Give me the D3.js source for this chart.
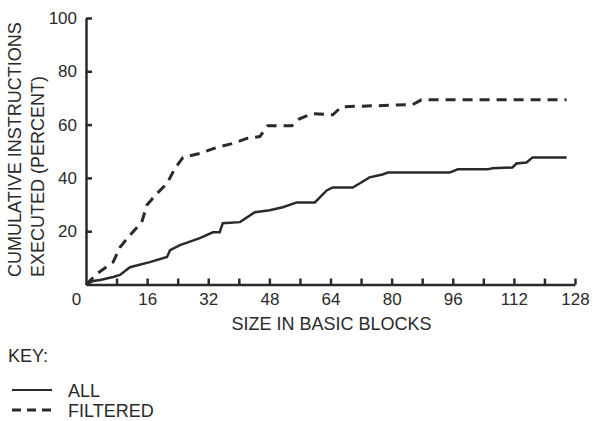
<!DOCTYPE html>
<html lang="en">
<head>
  <meta charset="utf-8">
  <title>Cumulative instructions executed</title>
  <style>
    body { margin: 0; background: #fff; }
    text { font-family: "Liberation Sans", Arial, Helvetica, sans-serif; fill: #2a2a2a; }
  </style>
</head>
<body>
  <div id="chart-area"></div>

  <script src="https://cdn.jsdelivr.net/npm/d3@7/dist/d3.min.js"></script>
  <script>
    // data: [size in basic blocks, cumulative percent]
    var allSeries = [
      [0, 0], [1.8, 1.3], [3.7, 1.7], [7.1, 2.8], [8.9, 3.6], [11.5, 6.5],
      [16.7, 8.4], [21.2, 10.3], [22, 12.9], [24.6, 14.8], [29.8, 17.4],
      [33.2, 19.6], [35, 19.6], [35.8, 23], [40.3, 23.4], [44.2, 27.1],
      [48.1, 27.9], [51.5, 29], [55.2, 30.8], [59.9, 30.8], [63, 35.3],
      [64.6, 36.4], [69.8, 36.4], [71.6, 37.9], [74.2, 40.2], [77.6, 41.3],
      [79, 42], [95.2, 42], [97.3, 43.2], [105.1, 43.2], [106.4, 43.6],
      [111.6, 43.9], [112.7, 45.4], [115.3, 45.8], [116.9, 47.7], [125.8, 47.7]
    ];
    var filteredSeries = [
      [0, 0], [3.1, 4.3], [7.1, 8.4], [8.9, 14], [11.5, 18.5], [14.6, 23.4],
      [15.9, 29.7], [18.6, 34.2], [21.2, 37.9], [23.3, 43.6], [25.4, 47.7],
      [29.8, 49.2], [34.2, 51.4], [38.4, 52.9], [42.1, 54.8], [45.5, 55.5],
      [47.6, 59.6], [53.9, 59.6], [55.9, 62.2], [59.3, 64.1], [64.6, 63.7],
      [66.9, 66.7], [85.5, 67.5], [87.8, 69.3], [125.8, 69.3]
    ];
    var xTicks = d3.range(8, 129, 8);
    var xLabels = [0, 16, 32, 48, 64, 80, 96, 112, 128];
    var yTicks = [20, 40, 60, 80, 100];
    var yTitle = ["CUMULATIVE INSTRUCTIONS", "EXECUTED (PERCENT)"];
    var xTitle = "SIZE IN BASIC BLOCKS";
    var keyItems = ["ALL", "FILTERED"];

    var svgWidth = 593;
    var svgHeight = 421;
    var margin = { top: 18, left: 86, bottom: 136.5, right: 18 };
    var width = svgWidth - margin.left - margin.right;
    var height = svgHeight - margin.top - margin.bottom;
    var ink = "#2a2a2a";

    var svg = d3.select("#chart-area")
                .append("svg")
                .attr("width", svgWidth)
                .attr("height", svgHeight);

    var g = svg.append("g")
               .attr("transform", "translate(" + margin.left + "," + margin.top + ")");

    var x = d3.scaleLinear().domain([0, 128]).range([0, width]);
    var y = d3.scaleLinear().domain([0, 100]).range([height, 0]);

    // axes, ticks point into the plot
    var xAxis = g.append("g")
                 .attr("transform", "translate(0," + height + ")")
                 .call(d3.axisBottom(x)
                         .tickValues([0].concat(xTicks))
                         .tickSizeInner(-6)
                         .tickSizeOuter(0)
                         .tickPadding(8)
                         .tickFormat((d) => xLabels.indexOf(d) >= 0 ? d : ""));
    xAxis.selectAll("text")
         .attr("font-size", 17)
         .attr("font-family", null)
         .attr("fill", ink)
         .attr("dx", (d) => d === 0 ? -10 : 0);
    xAxis.selectAll(".tick line").filter((d) => d === 0).remove();

    var yAxis = g.append("g")
                 .call(d3.axisLeft(y)
                         .tickValues(yTicks)
                         .tickSizeInner(-6)
                         .tickSizeOuter(0)
                         .tickPadding(9));
    yAxis.selectAll("text")
         .attr("font-size", 17)
         .attr("font-family", null)
         .attr("fill", ink);

    g.selectAll(".domain, .tick line")
     .attr("stroke", ink)
     .attr("stroke-width", 2.5);

    // curves
    var line = d3.line()
                 .x((d) => x(d[0]))
                 .y((d) => y(d[1]));

    g.append("path")
     .datum(allSeries)
     .attr("d", line)
     .attr("fill", "none")
     .attr("stroke", ink)
     .attr("stroke-width", 2.5);

    g.append("path")
     .datum(filteredSeries)
     .attr("d", line)
     .attr("fill", "none")
     .attr("stroke", ink)
     .attr("stroke-width", 3)
     .attr("stroke-dasharray", "10,7");

    // titles
    svg.selectAll(".ytitle")
       .data(yTitle)
       .enter()
       .append("text")
       .attr("class", "ytitle")
       .attr("transform", (d, i) => "translate(" + (21 + i * 23) + ",277) rotate(-90)")
       .attr("font-size", 18)
       .text((d) => d);

    svg.append("text")
       .attr("x", margin.left + width / 2 + 1)
       .attr("y", 330)
       .attr("text-anchor", "middle")
       .attr("font-size", 18)
       .text(xTitle);

    // key
    svg.append("text")
       .attr("x", 8)
       .attr("y", 362)
       .attr("font-size", 18)
       .text("KEY:");

    var key = svg.selectAll(".key")
                 .data(keyItems)
                 .enter()
                 .append("g")
                 .attr("class", "key")
                 .attr("transform", (d, i) => "translate(0," + (390 + i * 20) + ")");

    key.append("line")
       .attr("x1", 12)
       .attr("x2", 52)
       .attr("stroke", ink)
       .attr("stroke-width", (d, i) => i === 0 ? 2 : 3)
       .attr("stroke-dasharray", (d, i) => i === 0 ? null : "9,6");

    key.append("text")
       .attr("x", 68)
       .attr("y", 7)
       .attr("font-size", 18)
       .text((d) => d);
  </script>
</body>
</html>
